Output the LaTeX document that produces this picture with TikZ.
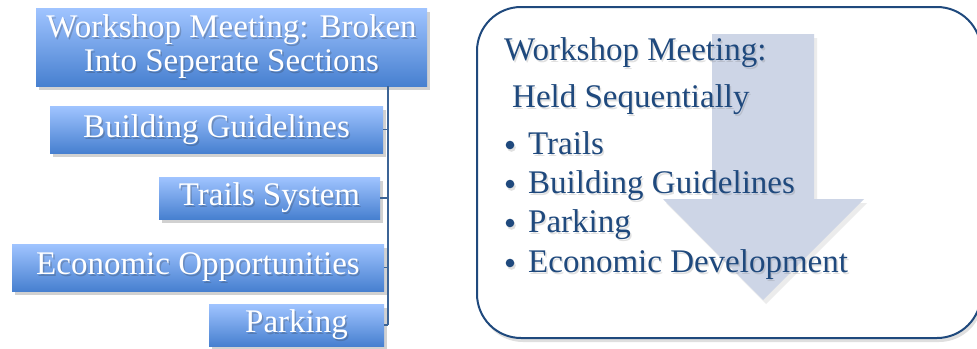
\documentclass[tikz,border=0pt]{standalone}
\usepackage{fontspec}
\setmainfont{Liberation Serif}
\usetikzlibrary{shadows}
\definecolor{boxtop}{HTML}{A0C4FF}
\definecolor{boxbot}{HTML}{4780D0}
\definecolor{navy}{HTML}{1F497D}
\definecolor{conn}{HTML}{3C6496}
\definecolor{arrowc}{HTML}{CDD5E6}
\tikzset{
  bluebox/.style={rectangle, inner sep=0pt, top color=boxtop, bottom color=boxbot,
    drop shadow={shadow xshift=3pt, shadow yshift=-4pt, opacity=0.3, fill=black!60}},
  boxtext/.style={text=white, font=\fontsize{33}{34}\selectfont, align=center, inner sep=0pt},
  boxshade/.style={text=black!80, opacity=0.25, font=\fontsize{33}{34}\selectfont, align=center, inner sep=0pt},
  rtext/.style={text=navy, font=\fontsize{33}{36}\selectfont, anchor=base west, inner sep=0pt},
  rshade/.style={text=black!60, opacity=0.2, font=\fontsize{33}{36}\selectfont, anchor=base west, inner sep=0pt},
  connline/.style={draw=conn, line width=1.6pt},
}
\begin{document}
\begin{tikzpicture}[x=1pt,y=-1pt]
\useasboundingbox (0,0) rectangle (977,348);
\clip (0,0) rectangle (977,348);
% left boxes
\node[bluebox, minimum width=391pt, minimum height=78pt] (top) at (231.5,47) {};
\node[bluebox, minimum width=333pt, minimum height=47pt] (bg) at (216.5,129.5) {};
\node[bluebox, minimum width=221pt, minimum height=42pt] (ts) at (269.5,198) {};
\node[bluebox, minimum width=372pt, minimum height=47pt] (eo) at (198,267.5) {};
\node[bluebox, minimum width=175pt, minimum height=42pt] (pk) at (296.5,325) {};
% texts with shadow
\foreach \n/\x/\y/\t in {top/231.5/47/{Workshop Meeting: Broken\\Into Seperate Sections},
  bg/216.5/129.5/{Building Guidelines}, ts/269.5/198/{Trails System},
  eo/198/267.5/{Economic Opportunities}, pk/296.5/325/{Parking}}{
  \node[boxshade] at (\x+1.5,\y+2) {\t};
  \node[boxtext] (\n-t) at (\x,\y) {\t};
}
% connectors
\coordinate (spine) at (388,0);
\draw[connline] (top.south -| spine) -- (pk.east -| spine);
\foreach \n in {bg,ts,eo,pk}{
  \draw[connline] (\n.east) -- (\n.east -| spine);
}
% right box
\node[draw=navy, line width=2pt, rounded corners=44pt, minimum width=504pt, minimum height=331pt,
  fill=white, drop shadow={shadow xshift=2pt, shadow yshift=-4pt, opacity=0.25, fill=black!50}] (rb) at (729,172.5) {};
% arrow
\fill[arrowc, drop shadow={shadow xshift=3pt, shadow yshift=-4pt, opacity=0.15, fill=black!50}]
  (712,34) -- (814,34) -- (814,199) -- (864,199) -- (763,300) -- (663,199) -- (712,199) -- cycle;
% right text
\foreach \x/\y/\t [count=\i] in {504/60/{Workshop Meeting:}, 512/107/{Held Sequentially},
  528/154/{Trails}, 528/193/{Building Guidelines}, 528/232/{Parking}, 528/272/{Economic Development}}{
  \node[rshade] at (\x+1.5,\y+2.5) {\t};
  \node[rtext] (r\i) at (\x,\y) {\t};
}
\foreach \y [count=\i] in {154,193,232,272}{
  \fill[black!60, opacity=0.2] (511.5,\y-6.5) circle (4.3pt);
  \fill[navy] (510,\y-9) circle (4.3pt) coordinate (b\i);
}
\end{tikzpicture}
\end{document}
